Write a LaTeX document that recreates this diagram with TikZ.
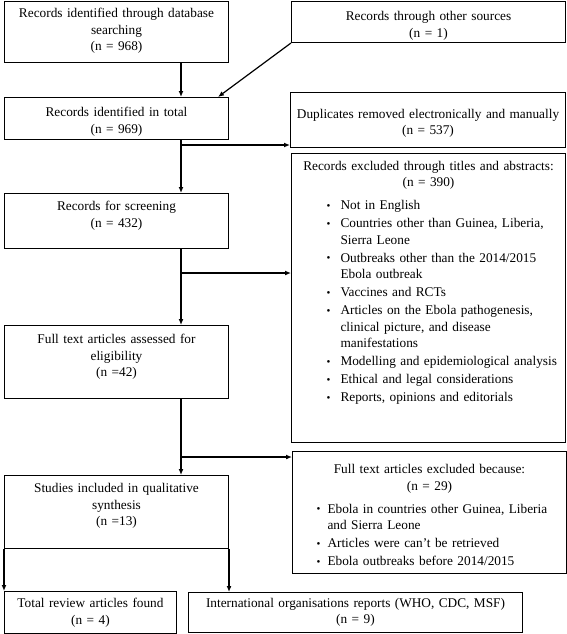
\documentclass[tikz,border=0pt]{standalone}
\usepackage{fontspec}
\setmainfont{Liberation Serif}
\usetikzlibrary{arrows.meta,positioning,calc}

\newlength{\bulletgap}
\newcommand{\bitem}[1]{\par\noindent\llap{\raisebox{0.8pt}{\fontsize{11pt}{11pt}\selectfont\textbullet}\hspace{\bulletgap}}#1}
\newcommand{\pad}[1]{\rule[-#1]{0pt}{#1}}

\begin{document}
\begin{tikzpicture}[x=1pt, y=1pt,
	box/.style={draw, line width=1pt, anchor=north west, inner xsep=4pt, inner ysep=0pt, align=center, font=\fontsize{13.3pt}{16.5pt}\selectfont},
	listbox/.style={box, align=left},
	arr/.style={-{Latex[length=6pt,width=5pt]}, line width=1.2pt}]
	\fill[white] (0,0) rectangle (567,-634);
	\useasboundingbox (0,0) rectangle (567,-634);
	
	\node[box, text width=216pt, minimum height=61pt] (search) at (4,-1) {Records identified through database\\searching\\(n = 968)\pad{5pt}};
	\node[box, text width=266pt, minimum height=41pt] (other) at (291,-1) {\rule{0pt}{17pt}Records through other sources\\(n = 1)};
	\node[box, text width=216pt, minimum height=42pt] (total) at (4,-97) {\rule{0pt}{16pt}Records identified in total\\(n = 969)};
	\node[box, inner xsep=1pt, text width=273pt, minimum height=55pt] (dupl) at (290,-92) {\rule{0pt}{16pt}Duplicates removed electronically and manually\\(n = 537)};
	\node[box, text width=216pt, minimum height=55pt] (screen) at (4,-193) {Records for screening\\(n = 432)\pad{13pt}};
	\node[listbox, text width=266pt, minimum height=289pt] (exclabs) at (291,-153) {%
		{\centering Records excluded through titles and abstracts:\\(n = 390)\par}
		\vspace{5pt}
		\leftskip=45pt \parskip=1.5pt \setlength{\bulletgap}{10pt}
		\bitem{Not in English}
		\bitem{Countries other than Guinea, Liberia,\\Sierra Leone}
		\bitem{Outbreaks other than the 2014/2015\\Ebola outbreak}
		\bitem{Vaccines and RCTs}
		\bitem{Articles on the Ebola pathogenesis,\\clinical picture, and disease\\manifestations}
		\bitem{Modelling and epidemiological analysis}
		\bitem{Ethical and legal considerations}
		\bitem{Reports, opinions and editorials\pad{33pt}}\par};
	\node[box, text width=216pt, minimum height=73pt] (full) at (4,-325) {Full text articles assessed for\\eligibility\\(n =42)\pad{13pt}};
	\node[listbox, text width=266pt, minimum height=122pt] (exclfull) at (292,-451) {%
		{\centering\rule{0pt}{15pt}Full text articles excluded because:\\(n = 29)\par}
		\vspace{5pt}
		\leftskip=31pt \parskip=1.5pt \setlength{\bulletgap}{7pt}
		\bitem{Ebola in countries other Guinea, Liberia\\and Sierra Leone}
		\bitem{Articles were can't be retrieved}
		\bitem{Ebola outbreaks before 2014/2015}\par};
	\node[box, text width=216pt, minimum height=73pt] (incl) at (4,-475) {Studies included in qualitative\\synthesis\\(n =13)\pad{15pt}};
	\node[box, text width=164pt, minimum height=42pt] (review) at (4,-591) {Total review articles found\\(n = 4)};
	\node[box, text width=326pt, minimum height=40pt] (orgs) at (188,-592) {International organisations reports (WHO, CDC, MSF)\\(n = 9)};
	
	% main line and side branches
	\coordinate (spine) at (181,0);
	\coordinate (otherin) at (218,0);
	\coordinate (branchdupl) at (181,-145);
	\coordinate (branchabs) at (181,-273);
	\coordinate (branchfull) at (181,-457);
	
	\draw[arr] (search.south -| spine) -- (total.north -| spine);
	\draw[arr] (other.south west) -- (total.north -| otherin);
	\draw[arr] (total.south -| spine) -- (screen.north -| spine);
	\draw[arr] (branchdupl) -- (branchdupl -| dupl.west);
	\draw[arr] (screen.south -| spine) -- (full.north -| spine);
	\draw[arr] (branchabs) -- (branchabs -| exclabs.west);
	\draw[arr] (full.south -| spine) -- (incl.north -| spine);
	\draw[arr] (branchfull) -- (branchfull -| exclfull.west);
	\draw[arr] (incl.south west) -- (incl.south west |- review.north);
	\draw[arr] (incl.south east) -- (incl.south east |- orgs.north);
\end{tikzpicture}
\end{document}
